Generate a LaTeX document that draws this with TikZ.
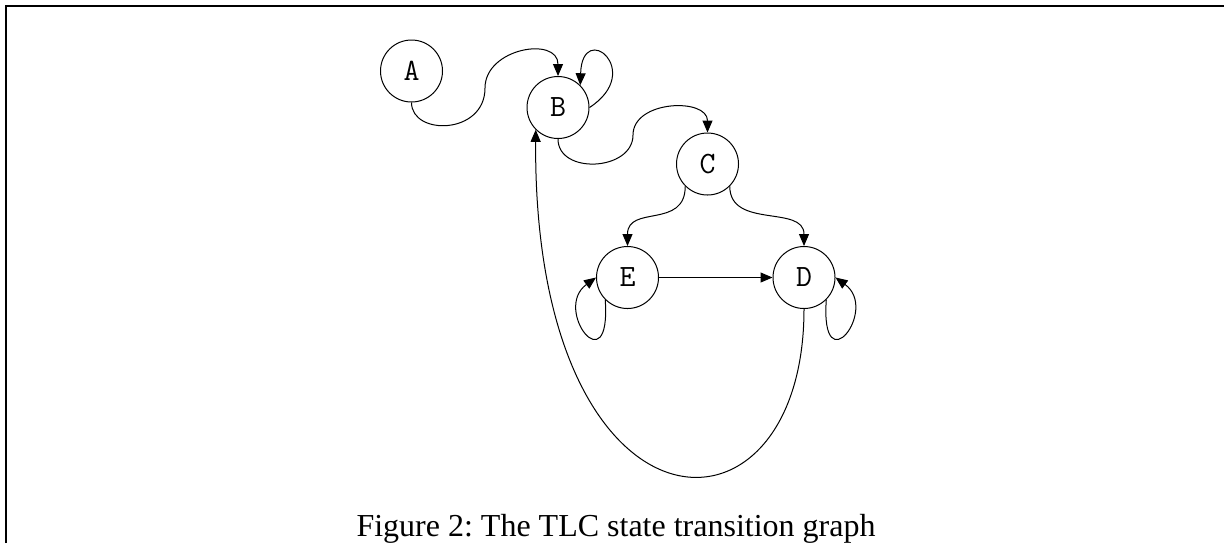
\documentclass[tikz,border=0pt]{standalone}
\usepackage{fontspec}
\setmainfont{Liberation Serif}
\usetikzlibrary{arrows.meta}
\begin{document}
\begin{tikzpicture}[x=0.5pt,y=-0.5pt,
  state/.style={circle,draw,line width=0.5pt,minimum size=31pt,inner sep=0pt,
    font=\ttfamily\fontsize{15.5}{15.5}\selectfont},
  edge/.style={line width=0.5pt,-{Triangle[length=6pt,width=5pt]}},
  frame/.style={line width=1pt}]
\useasboundingbox (0,0) rectangle (1224,543);
\draw[frame] (5.5,543) -- (5.5,5.5) -- (1224,5.5);

\node[state] (A) at (411.5,71) {A};
\node[state] (B) at (558,107.5) {B};
\node[state] (C) at (707.5,164) {C};
\node[state] (E) at (627.5,277.5) {E};
\node[state] (D) at (804,277.5) {D};

\coordinate (ab) at (485,88);
\coordinate (bc) at (633,135);

\draw[edge] (A.south) .. controls +(0,33.5) and +(0,47) .. (ab)
  .. controls +(0,-40) and +(0,-40) .. (B.north);
\draw[edge] (B.east) .. controls +(56,-36.5) and +(2,-66) .. (B.north east);
\draw[edge] (B.south) .. controls +(0,36) and +(0,36) .. (bc)
  .. controls +(0,-35) and +(0,-35) .. (C.north);
\draw[edge] (C.south west) .. controls +(0,43) and +(0,-41.5) .. (E.north);
\draw[edge] (C.south east) .. controls +(0,43) and +(0,-41.5) .. (D.north);
\draw[edge] (E.east) -- (D.west);
\draw[edge] (E.south west) .. controls +(6,86) and +(-44,32) .. (E.west);
\draw[edge] (D.south east) .. controls +(-6,86) and +(44,32) .. (D.east);
\draw[edge] (D.south) .. controls +(0,251.5) and +(-3,420.6) .. (B.south west);

\node[font=\fontsize{16}{18}\selectfont\frenchspacing, anchor=base] (cap) at (616,536)
  {Figure 2: The TLC state transition graph};
\end{tikzpicture}
\end{document}
